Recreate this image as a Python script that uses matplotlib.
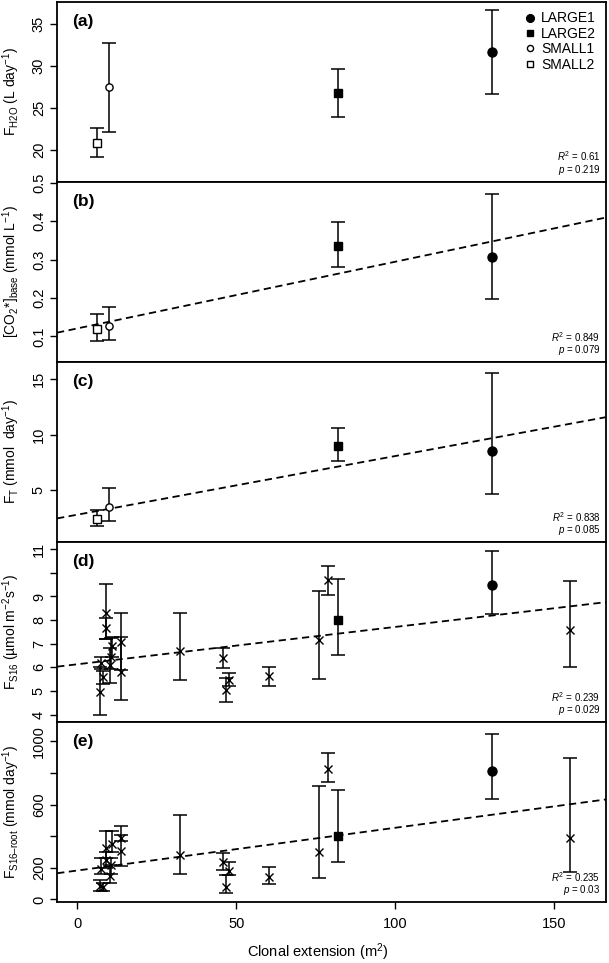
import numpy as np
import matplotlib
matplotlib.use("Agg")
import matplotlib.pyplot as plt

plt.rcParams['font.family'] = ['Liberation Sans', 'DejaVu Sans']
plt.rcParams['mathtext.fontset'] = 'custom'
plt.rcParams['mathtext.rm'] = 'Liberation Sans'
plt.rcParams['mathtext.it'] = 'Liberation Sans:italic'
plt.rcParams['mathtext.default'] = 'regular'

# site means (x = clonal extension, m2)
site_names = ['LARGE1', 'LARGE2', 'SMALL1', 'SMALL2']
site_x = [130.4, 82.2, 10.0, 6.3]
site_marker = ['o', 's', 'o', 's']
site_fill = ['black', 'black', 'white', 'white']

# (a) F_H2O
a_y = [31.72, 26.8, 27.5, 20.84]
a_lo = [26.62, 23.96, 22.13, 19.09]
a_hi = [36.71, 29.69, 32.79, 22.63]

# (b) CO2 base
b_y = [0.306, 0.336, 0.127, 0.119]
b_lo = [0.198, 0.282, 0.090, 0.088]
b_hi = [0.470, 0.397, 0.177, 0.158]
b_fit = [0.121, 0.001736]

# (c) F_T
c_y = [8.53, 9.01, 3.5, 2.39]
c_lo = [4.64, 7.63, 2.23, 1.78]
c_hi = [15.54, 10.63, 5.18, 3.2]
c_fit = [2.79, 0.0528]

# (d)/(e) individual sampling points (crosses)
pt_x = [7.1, 7.6, 8.2, 8.9, 8.9, 10.3, 10.5, 10.8, 13.6, 13.9,
        32.4, 45.8, 46.7, 47.7, 60.2, 76.2, 78.9, 155.2]

d_site_y = [9.50, 8.0]
d_site_lo = [8.25, 6.54]
d_site_hi = [10.91, 9.74]
d_y = [4.95, 6.19, 5.58, 8.31, 7.66, 6.08, 6.43, 6.92, 7.07, 5.82,
       6.71, 6.40, 5.05, 5.48, 5.63, 7.14, 9.69, 7.60]
d_lo = [4.0, 5.95, 5.3, 7.18, 7.2, 5.34, 5.95, 6.45, 5.9, 4.62,
        5.48, 5.97, 4.55, 5.23, 5.19, 5.5, 9.08, 6.01]
d_hi = [6.0, 6.45, 5.85, 9.51, 8.1, 6.8, 7.24, 7.3, 7.3, 8.31,
        8.28, 6.83, 5.55, 5.77, 6.03, 9.23, 10.30, 9.64]
d_fit = [6.13, 0.0158]

e_site_y = [814, 403]
e_site_lo = [634, 236]
e_site_hi = [1044, 695]
e_y = [88, 194, 81, 325, 251, 149, 215, 352, 390, 304,
       283, 234, 81, 183, 141, 303, 827, 386]
e_lo = [56, 162, 56, 262, 200, 103, 162, 300, 370, 213,
        162, 187, 39, 156, 98, 135, 740, 175]
e_hi = [124, 262, 103, 430, 300, 215, 262, 430, 405, 462,
        537, 293, 156, 234, 206, 719, 926, 892]
e_fit = [183, 2.70]

stats = [('0.61', '0.219'), ('0.849', '0.079'), ('0.838', '0.085'),
         ('0.239', '0.029'), ('0.235', '0.03')]

ylabels = [r'F$_{H2O}$ (L day$^{-1}$)',
           r'[CO$_2$*]$_{base}$ (mmol L$^{-1}$)',
           r'F$_{T}$ (mmol  day$^{-1}$)',
           r'F$_{S16}$ (µmol m$^{-2}$s$^{-1}$)',
           r'F$_{S16–root}$ (mmol day$^{-1}$)']

fig = plt.figure(figsize=(6.09, 9.63), dpi=100)
gs = fig.add_gridspec(5, 1, left=57/609, right=606/609, top=1-1.7/963,
                      bottom=1-902/963, hspace=0)
axes = [fig.add_subplot(gs[i]) for i in range(5)]

eb_kw = dict(fmt='none', ecolor='black', elinewidth=1.1, capsize=4.7, capthick=1.1)


def draw_sites(ax, y, lo, hi):
    y = np.array(y); lo = np.array(lo); hi = np.array(hi)
    n = len(y)
    ax.errorbar(site_x[:n], y, yerr=[y - lo, hi - y], zorder=2, **eb_kw)
    for i in range(n):
        if site_marker[i] == 'o':
            ms = 6.5 if site_fill[i] == 'black' else 5.2
        else:
            ms = 5.5
        ax.plot(site_x[i], y[i], marker=site_marker[i], ls='none',
                mfc=site_fill[i], mec='black', mew=1.0, ms=ms, zorder=3,
                label=site_names[i])


def draw_points(ax, y, lo, hi):
    y = np.array(y); lo = np.array(lo); hi = np.array(hi)
    ax.errorbar(pt_x, y, yerr=[y - lo, hi - y], zorder=2, **eb_kw)
    ax.plot(pt_x, y, 'x', color='black', ms=6, mew=1.0, zorder=3)


def draw_fit(ax, fit):
    xs = np.array([-10, 170])
    ax.plot(xs, fit[0] + fit[1] * xs, color='black', lw=1.3, ls=(0, (4, 2.5)), zorder=1)


draw_sites(axes[0], a_y, a_lo, a_hi)
axes[0].legend(loc='upper right', frameon=False, fontsize=10, handlelength=0.6,
               handletextpad=0.5, labelspacing=0.1, borderaxespad=0.3,
               markerscale=0.85)

draw_fit(axes[1], b_fit)
draw_sites(axes[1], b_y, b_lo, b_hi)

draw_fit(axes[2], c_fit)
draw_sites(axes[2], c_y, c_lo, c_hi)

draw_fit(axes[3], d_fit)
draw_points(axes[3], d_y, d_lo, d_hi)
draw_sites(axes[3], d_site_y, d_site_lo, d_site_hi)

draw_fit(axes[4], e_fit)
draw_points(axes[4], e_y, e_lo, e_hi)
draw_sites(axes[4], e_site_y, e_site_lo, e_site_hi)

ylims = [(16.17, 37.7), (0.034, 0.503), (0.34, 16.56), (3.69, 11.31), (-16, 1122)]
yticks = [[20, 25, 30, 35], [0.1, 0.2, 0.3, 0.4, 0.5], [5, 10, 15],
          [4, 5, 6, 7, 8, 9, 10, 11], [0, 200, 400, 600, 800, 1000]]
yticklabels = [['20', '25', '30', '35'], ['0.1', '0.2', '0.3', '0.4', '0.5'],
               ['5', '10', '15'], ['4', '5', '6', '7', '8', '9', '', '11'],
               ['0', '200', '', '600', '', '1000']]
tags = ['(a)', '(b)', '(c)', '(d)', '(e)']

for i, ax in enumerate(axes):
    ax.set_xlim(-6.4, 166.4)
    ax.set_ylim(*ylims[i])
    ax.set_yticks(yticks[i])
    ax.set_yticklabels(yticklabels[i], rotation=90, va='center')
    ax.tick_params(axis='y', direction='out', length=5, width=1, labelsize=10.5, pad=3)
    for s in ax.spines.values():
        s.set_linewidth(1.3)
    ax.set_ylabel(ylabels[i], fontsize=10)
    ax.yaxis.set_label_coords(-0.064, 0.5)
    ax.text(0.027, 0.89, tags[i], transform=ax.transAxes, fontsize=12.5,
            fontweight='bold', va='center')
    r2, p = stats[i]
    ax.text(0.99, 0.14, r'$\mathit{R}^2$ = ' + r2, transform=ax.transAxes,
            fontsize=7, ha='right', va='center')
    ax.text(0.99, 0.065, r'$\mathit{p}$ = ' + p, transform=ax.transAxes,
            fontsize=7, ha='right', va='center')
    if i < 4:
        ax.tick_params(axis='x', bottom=False, labelbottom=False)

axes[4].set_xticks([0, 50, 100, 150])
axes[4].tick_params(axis='x', direction='out', length=5, width=1, labelsize=10.5, pad=6)
axes[4].set_xlabel(r'Clonal extension (m$^2$)', fontsize=10.5)
axes[4].xaxis.set_label_coords(0.475, -0.22)

fig.savefig('out.png', dpi=100)
